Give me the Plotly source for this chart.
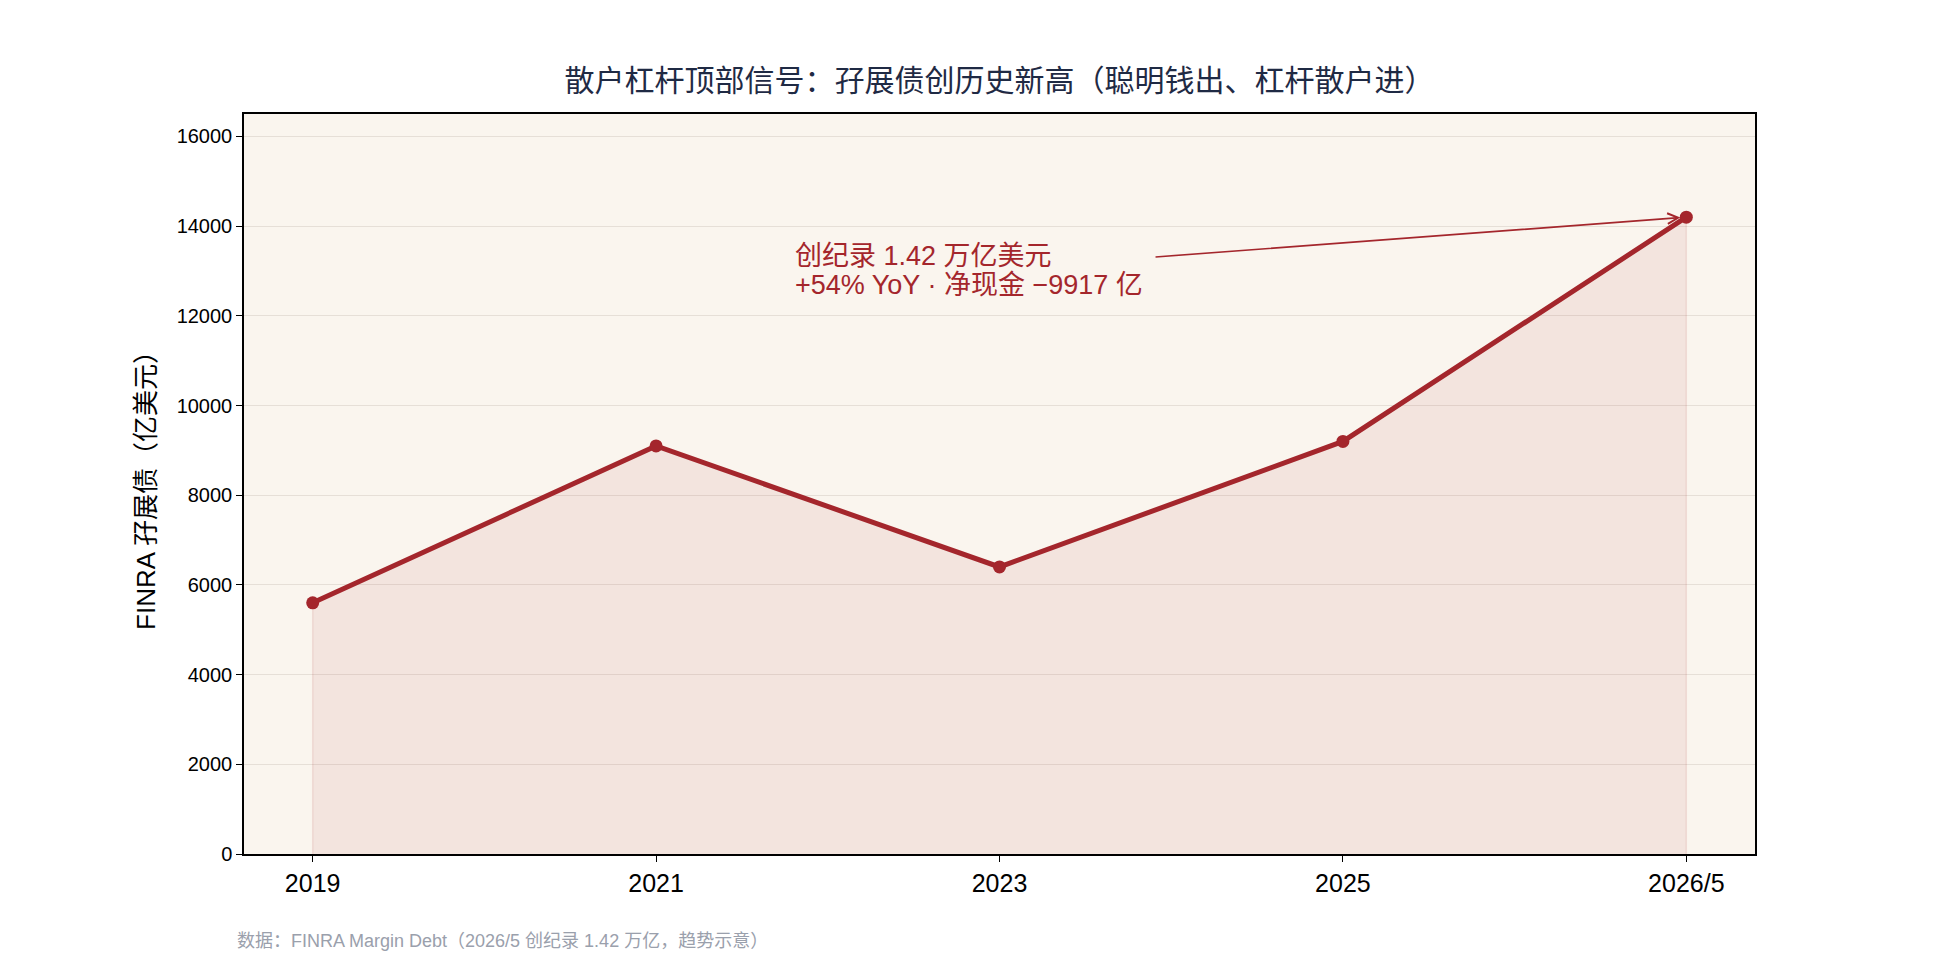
import plotly.graph_objects as go

categories = ["2019", "2021", "2023", "2025", "2026/5"]
margin_debt = [5600, 9100, 6400, 9200, 14200]
y_ticks = [0, 2000, 4000, 6000, 8000, 10000, 12000, 14000, 16000]

title_text = "散户杠杆顶部信号：孖展债创历史新高（聪明钱出、杠杆散户进）"
y_title = "FINRA 孖展债（亿美元）"
note_line1 = "创纪录 1.42 万亿美元"
note_line2 = "+54% YoY · 净现金 −9917 亿"
footer_text = "数据：FINRA Margin Debt（2026/5 创纪录 1.42 万亿，趋势示意）"

RED = "#a4262c"
FONT = "Liberation Sans, Arial, Noto Sans CJK SC, sans-serif"

W, H = 1950, 960
L, R, T, B = 244, 195, 114, 106
PW, PH = W - L - R, H - T - B

xi = list(range(len(categories)))

fig = go.Figure()
fig.add_trace(go.Scatter(
    x=[xi[0]] + xi + [xi[-1]],
    y=[0] + margin_debt + [0],
    mode="lines", fill="toself",
    fillcolor="rgba(164,38,44,0.08)",
    line=dict(color="rgba(164,38,44,0.10)", width=1.5),
    hoverinfo="skip", showlegend=False,
))
fig.add_trace(go.Scatter(
    x=xi, y=margin_debt, mode="lines+markers",
    line=dict(color=RED, width=5),
    marker=dict(color=RED, size=13),
    showlegend=False,
))

for txt, py in [(note_line1, 256), (note_line2, 285)]:
    fig.add_annotation(
        x=1.4, y=1 - (py - T) / PH, xref="x", yref="paper",
        text=txt, showarrow=False,
        xanchor="left", yanchor="middle", align="left",
        font=dict(family=FONT, size=27, color=RED),
    )
fig.add_annotation(
    x=xi[-1], y=margin_debt[-1], xref="x", yref="y",
    ax=2.45, ay=13310, axref="x", ayref="y",
    text="", showarrow=True, arrowhead=5, arrowsize=1.3,
    arrowwidth=1.6, arrowcolor=RED, standoff=6,
)
fig.add_annotation(
    x=(235 - L) / PW, y=1 - (941 - T) / PH, xref="paper", yref="paper",
    xanchor="left", yanchor="middle",
    text=footer_text, showarrow=False,
    font=dict(family=FONT, size=18, color="#9aa0ac"),
)

fig.update_layout(
    width=W, height=H,
    paper_bgcolor="white", plot_bgcolor="#faf5ee",
    margin=dict(l=L, r=R, t=T, b=B),
    font=dict(family=FONT, color="black"),
    title=dict(
        text=title_text, x=(L + W - R) / 2 / W, xanchor="center",
        y=1 - 80 / H, yanchor="middle",
        font=dict(family=FONT, size=30, color="#1f2a44"),
    ),
    xaxis=dict(
        range=[-0.2, 4.2], tickmode="array", tickvals=xi, ticktext=categories,
        showgrid=False, zeroline=False,
        showline=True, linecolor="black", linewidth=1.5, mirror=True,
        ticks="outside", ticklen=6, tickcolor="black", tickwidth=1.2,
        tickfont=dict(family=FONT, size=25, color="black"),
    ),
    yaxis=dict(
        range=[0, 16500], tickmode="array", tickvals=y_ticks, tickformat="d",
        showgrid=True, gridcolor="rgba(200,190,180,0.4)", gridwidth=1,
        zeroline=False,
        showline=True, linecolor="black", linewidth=1.5, mirror=True,
        ticks="outside", ticklen=6, tickcolor="black", tickwidth=1.2,
        tickfont=dict(family=FONT, size=20, color="black"),
        title=dict(text=y_title, font=dict(family=FONT, size=26, color="black"), standoff=14),
    ),
)

fig.write_html("out.html")
